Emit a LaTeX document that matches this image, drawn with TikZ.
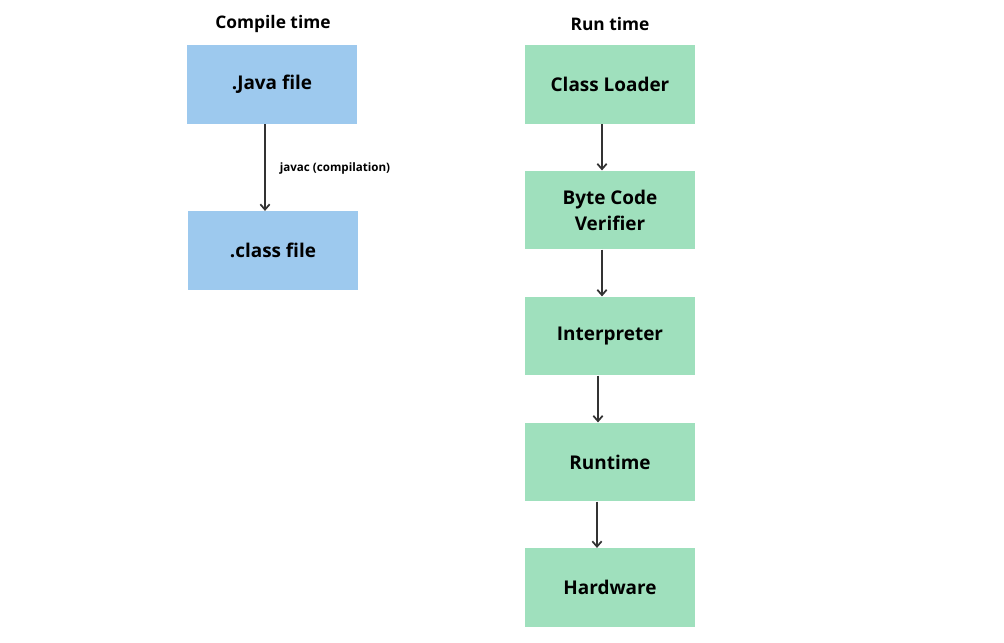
\documentclass[tikz,border=0pt]{standalone}
\usepackage{fontspec}
\setmainfont{Open Sans}
\usetikzlibrary{arrows.meta}
\definecolor{bluebox}{HTML}{9DC9EE}
\definecolor{greenbox}{HTML}{9FE0BD}
\definecolor{arrowc}{HTML}{333333}
\begin{document}
\begin{tikzpicture}[x=0.75pt,y=-0.75pt]
\tikzset{
  box/.style={minimum width=127.5pt, minimum height=59pt, inner sep=0pt, align=center, font=\fontsize{14.2}{15}\selectfont\bfseries},
  bbox/.style={box, fill=bluebox},
  gbox/.style={box, fill=greenbox},
  title/.style={font=\fontsize{13}{14}\selectfont\bfseries},
  conn/.style={draw=arrowc, line width=1.6pt, -{Straight Barb[length=4pt,width=7pt,line width=1.3pt]}},
  lbl/.style={font=\fontsize{8.7}{10}\selectfont\bfseries, anchor=west}
}
\useasboundingbox (0,0) rectangle (1004,643);
\node[title] (t1) at (273,24) {Compile time};
\node[title] (t2) at (610,24) {Run time};
\node[bbox] (java) at (272,84.5) {.Java file};
\node[bbox] (cls) at (273,250.5) {.class file};
\node[gbox] (cl) at (610,84.5) {Class Loader};
\node[gbox, font=\fontsize{14.2}{19.5}\selectfont\bfseries] (bcv) at (610,210) {Byte Code\\Verifier};
\node[gbox] (interp) at (610,336) {Interpreter};
\node[gbox] (rt) at (610,462) {Runtime};
\node[gbox] (hw) at (610,587.5) {Hardware};
\draw[conn] (java.south -| 265,0) -- (cls.north -| 265,0) node[lbl, pos=0.5, xshift=7pt, yshift=-1pt] {javac (compilation)};
\draw[conn] (cl.south -| 602,0) -- (bcv.north -| 602,0);
\draw[conn] (bcv.south -| 602,0) -- (interp.north -| 602,0);
\draw[conn] (interp.south -| 598,0) -- (rt.north -| 598,0);
\draw[conn] (rt.south -| 597,0) -- (hw.north -| 597,0);
\end{tikzpicture}
\end{document}
